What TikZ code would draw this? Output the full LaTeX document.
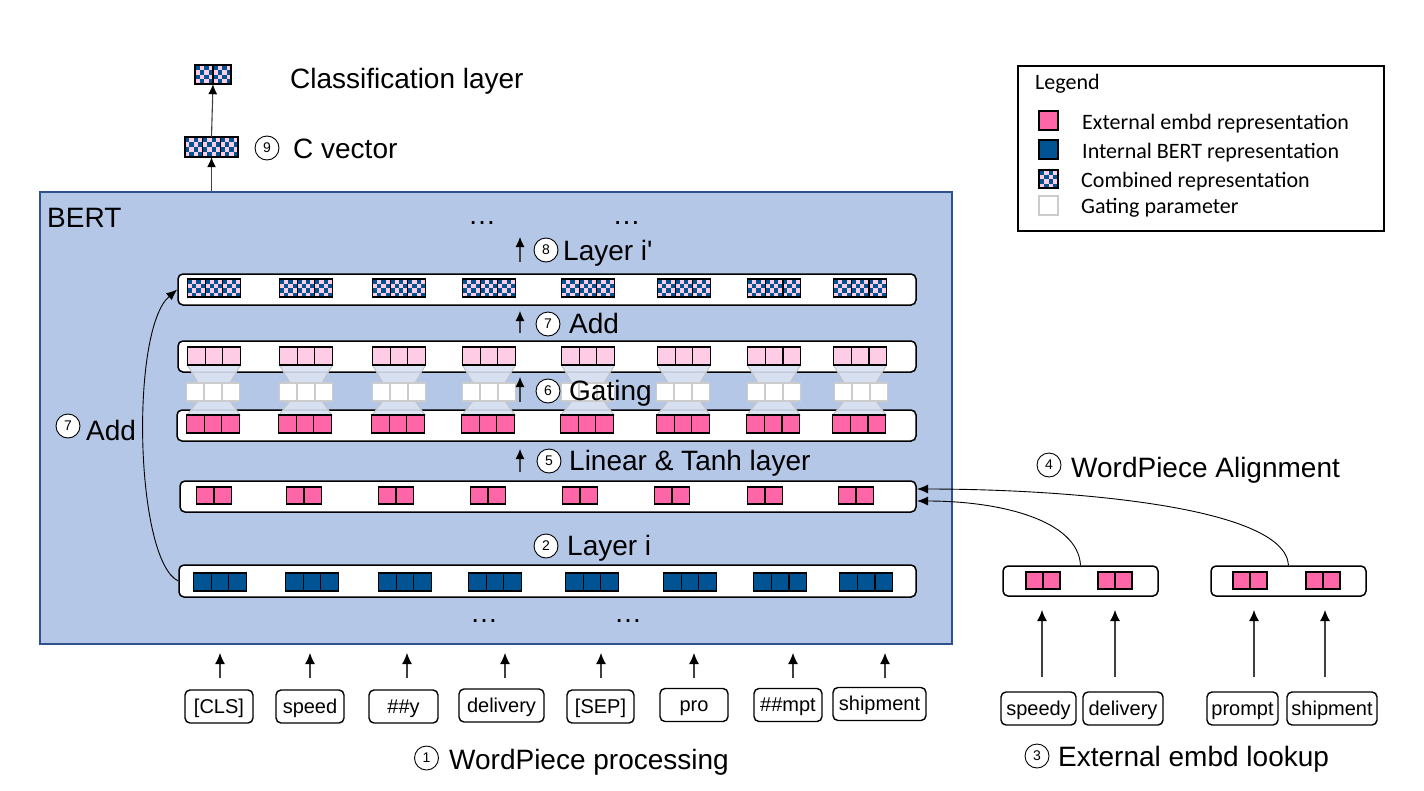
\documentclass[tikz,border=0pt]{standalone}
\usepackage{fontspec}
\setmainfont{Liberation Sans}
\newfontfamily\legfont{Carlito}
\usetikzlibrary{arrows.meta}
\definecolor{bertfill}{HTML}{B4C7E7}
\definecolor{bertline}{HTML}{2F528F}
\definecolor{extpink}{HTML}{FF66A8}
\definecolor{lightpink}{HTML}{FFCCE5}
\definecolor{intblue}{HTML}{005494}
\definecolor{hgfill}{HTML}{DAE3F3}
\definecolor{hgline}{HTML}{C4C4C4}
\definecolor{gateline}{HTML}{CCCCCC}
\newcommand\chk[4]{%
  \fill[lightpink] ({#1},{#2}) rectangle ++({#3},{#4});
  \foreach \ii/\jj in {0/0,0/2,1/1,1/3,2/0,2/2,3/1,3/3}{
    \fill[intblue] ({#1+\ii*#3/4},{#2+\jj*#4/4}) rectangle ++({#3/4},{#4/4});}
  \draw[cellline] ({#1},{#2}) rectangle ++({#3},{#4});}
\begin{document}
\begin{tikzpicture}[x=1pt,y=-1pt,
  cellline/.style={draw=black, line width=1.3},
  rowbox/.style={draw=black, fill=white, rounded corners=5, line width=1.5, inner sep=0},
  tok/.style={draw=black, rounded corners=5, line width=1.4, inner xsep=3, inner ysep=5, text height=18, text depth=5, font=\fontsize{20}{24}\selectfont},
  num/.style={circle, draw=black, fill=white, line width=0.9, minimum size=24, inner sep=0, font=\fontsize{14}{14}\selectfont},
  lab/.style={anchor=base west, inner sep=0, font=\fontsize{28}{32}\selectfont},
  leg/.style={anchor=base west, inner sep=0, font=\legfont\fontsize{22}{26}\selectfont},
  dots/.style={anchor=base, inner sep=0, font=\fontsize{28}{32}\selectfont},
  arr/.style={-{Latex[length=11,width=10,color=black]}, line width=1.1, draw=black!75},
  arrs/.style={-{Latex[length=10,width=9,color=black]}, line width=1.1, draw=black!75},
  curve/.style={-{Latex[length=11,width=9]}, line width=0.9, draw=black},
]
\path[use as bounding box, fill=white] (0,0) rectangle (1424,790);

% BERT box
\node[draw=bertline, fill=bertfill, line width=2, minimum width=912, minimum height=452, inner sep=0] (bert) at (496,418) {};
\node[lab, anchor=base west] (bertlab) at (47,227) {BERT};

% rows
\node[rowbox, minimum width=738, minimum height=31] (comb) at (547,289.5) {};
\node[rowbox, minimum width=738, minimum height=31] (lprow) at (547,356.5) {};
\node[rowbox, minimum width=739, minimum height=31] (pkrow) at (546.5,425.5) {};
\node[rowbox, minimum width=736, minimum height=31] (linrow) at (548,496.5) {};
\node[rowbox, minimum width=737, minimum height=32] (bluerow) at (547.5,581) {};

% hourglasses
\foreach \c in {214,306,399,489,588,684,774,860}{
  \filldraw[fill=hgfill, draw=hgline, line width=1, fill opacity=0.9] ({\c-26.5},365) -- ({\c+26.5},365) -- ({\c+16},383) -- ({\c-16},383) -- cycle;
  \filldraw[fill=hgfill, draw=hgline, line width=1, fill opacity=0.9] ({\c-16},401) -- ({\c+16},401) -- ({\c+26},415) -- ({\c-27},415) -- cycle;
}

% combined cells
\foreach \c in {214,306,399,489,588,684,774,860}{
  \foreach \k in {0,1,2}{\chk{\c-26.5+\k*17.67}{279}{17.67}{18}}
}
% light pink cells
\foreach \c in {214,306,399,489,588,684,774,860}{
  \foreach \k in {0,1,2}{\draw[cellline, fill=lightpink] ({\c-26.5+\k*17.67},347) rectangle ++(17.67,18);}
}
% gating cells
\foreach \c in {213,306,399,489,588,683,774,861}{
  \foreach \k in {0,1,2}{\draw[draw=gateline, line width=1.6, fill=white] ({\c-26.5+\k*17.67},383) rectangle ++(17.67,18);}
}
% pink cells
\foreach \c in {213,305,398,488,587,683,773,859}{
  \foreach \k in {0,1,2}{\draw[cellline, fill=extpink] ({\c-26.5+\k*17.67},415) rectangle ++(17.67,18);}
}
% linear cells
\foreach \c in {214,304,396,488,580,672,765,856}{
  \foreach \k in {0,1}{\draw[cellline, fill=extpink] ({\c-17.5+\k*17.5},487) rectangle ++(17.5,17);}
}
% internal blue cells
\foreach \c in {220,312,405,495,592,690,780,866}{
  \foreach \k in {0,1,2}{\draw[cellline, fill=intblue] ({\c-26.5+\k*17.67},573) rectangle ++(17.67,18);}
}

% dots
\node[dots] (d1) at (482,224) {…};
\node[dots] (d2) at (626.5,224) {…};
\node[dots] (d3) at (484,622) {…};
\node[dots] (d4) at (628,622) {…};

% inner labels
\coordinate (a8s) at (520,262); \coordinate (a8e) at (520,237);
\draw[arrs] (a8s) -- (a8e);
\node[num] (n8) at (546,250) {8};
\node[lab] (l8) at (563,260) {Layer i\textquotesingle};

\coordinate (a7s) at (520,333); \coordinate (a7e) at (520,311);
\draw[arrs] (a7s) -- (a7e);
\node[num] (n7) at (548,324) {7};
\node[lab] (l7) at (569,333) {Add};

\coordinate (a6s) at (520,402); \coordinate (a6e) at (520,377);
\draw[arrs] (a6s) -- (a6e);
\node[num] (n6) at (548,391) {6};
\node[lab] (l6) at (569,400) {Gating};

\coordinate (a5s) at (520,472); \coordinate (a5e) at (520,449);
\draw[arrs] (a5s) -- (a5e);
\node[num] (n5) at (549,461) {5};
\node[lab] (l5) at (569,470) {Linear \& Tanh layer};

\node[num] (n2) at (546,546) {2};
\node[lab] (l2) at (567,555) {Layer i};

% residual add curve
\draw[curve] (bluerow.west) .. controls (135,560) and (130,330) .. (comb.west);
\node[num] (n7b) at (68,426) {7};
\node[lab] (l7b) at (86,440) {Add};

% C vector and classification layer
\node[inner sep=0, minimum width=53, minimum height=20] (cvec) at (211.5,147) {};
\foreach \k in {0,1,2}{\chk{185+\k*17.67}{137}{17.67}{20}}
\node[inner sep=0, minimum width=36, minimum height=19] (clsl) at (213,74.5) {};
\foreach \k in {0,1}{\chk{195+\k*18}{65}{18}{19}}
\draw[arrs] (bert.north -| cvec.south) -- (cvec.south);
\draw[arrs] (cvec.north) -- (clsl.south);
\node[num] (n9) at (267,148) {9};
\node[lab] (l9) at (293,158) {C vector};
\node[lab] (lcl) at (290,88) {Classification layer};

% WordPiece tokens
\node[tok, minimum width=68] (t1) at (219,706.5) {[CLS]};
\node[tok, minimum width=68] (t2) at (310,706.5) {speed};
\node[tok, minimum width=69] (t3) at (403.5,706.5) {\#\#y};
\node[tok, minimum width=85] (t4) at (501.5,705.5) {delivery};
\node[tok, minimum width=67] (t5) at (600.5,706.5) {[SEP]};
\node[tok, minimum width=68] (t6) at (694,705) {pro};
\node[tok, minimum width=68] (t7) at (788,705) {\#\#mpt};
\node[tok, minimum width=93] (t8) at (879.5,704) {shipment};
\foreach \x [count=\i] in {220,310,407,505,601,694,793,885}{
  \coordinate (ta\i) at (\x,678); \coordinate (tb\i) at (\x,653);
  \draw[arr] (ta\i) -- (tb\i);
}
\node[num, fill=none] (n1) at (426.5,758) {1};
\node[lab] (l1) at (449,769) {WordPiece processing};

% external embeddings
\node[rowbox, minimum width=155, minimum height=30] (x1) at (1080.5,581) {};
\node[rowbox, minimum width=155, minimum height=30] (x2) at (1288.5,581) {};
\foreach \x in {1026,1098,1233,1306}{
  \foreach \k in {0,1}{\draw[cellline, fill=extpink] ({\x+\k*17},572) rectangle ++(17,17);}
}
\node[tok, minimum width=75] (e1) at (1038.5,708.5) {speedy};
\node[tok, minimum width=80] (e2) at (1123,708.5) {delivery};
\node[tok, minimum width=71] (e3) at (1242.5,708.5) {prompt};
\node[tok, minimum width=90] (e4) at (1332,708.5) {shipment};
\foreach \x [count=\i] in {1042,1115,1254,1325}{
  \coordinate (ea\i) at (\x,677); \coordinate (eb\i) at (\x,610);
  \draw[arr] (ea\i) -- (eb\i);
}
\node[num, fill=none] (n3) at (1037,756) {3};
\node[lab] (l3) at (1058,766) {External embd lookup};

% alignment arrows
\coordinate (alA) at (917,501); \coordinate (alB) at (917,489);
\draw[curve] (x1.north) .. controls (1078,520) and (1000,501) .. (alA);
\draw[curve] (x2.north) .. controls (1285,505) and (1060,489) .. (alB);
\node[num, fill=none] (n4) at (1049,465) {4};
\node[lab] (l4) at (1071,477) {WordPiece Alignment};

% legend
\node[draw=black, line width=1.5, minimum width=366, minimum height=165, inner sep=0] (legend) at (1201,148.5) {};
\node[leg] (lg0) at (1035,89) {Legend};
\draw[cellline, fill=extpink] (1039,111) rectangle (1058,130);
\node[leg] (lg1) at (1082,129) {External embd representation};
\draw[cellline, fill=intblue] (1039,140) rectangle (1058,159);
\node[leg] (lg2) at (1082,158) {Internal BERT representation};
\chk{1039}{170}{19}{18}
\node[leg] (lg3) at (1081,187) {Combined representation};
\draw[draw=gateline, line width=1.6, fill=white] (1039,196) rectangle (1058,215);
\node[leg] (lg4) at (1081,213) {Gating parameter};
\end{tikzpicture}
\end{document}
